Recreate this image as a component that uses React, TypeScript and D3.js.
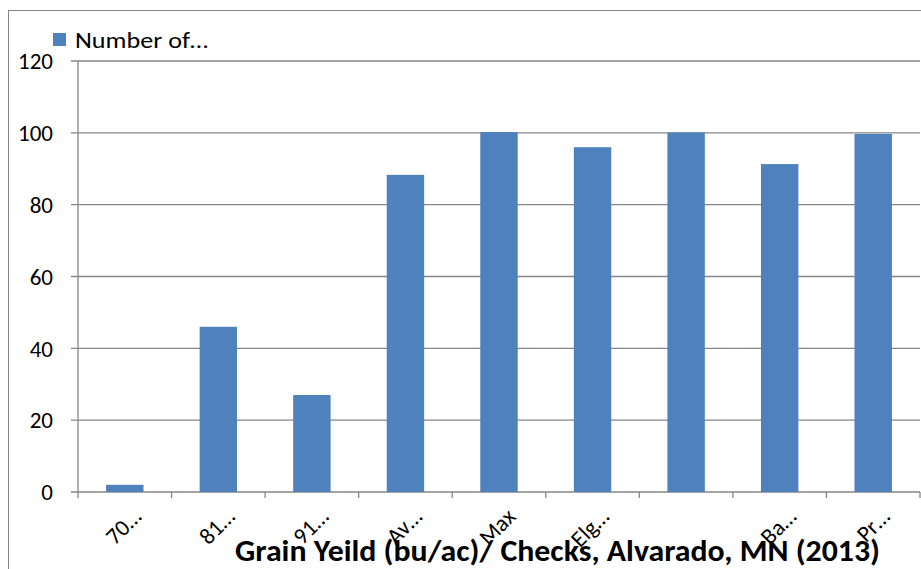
import React from "react";
import * as d3 from "d3";

const categories = ["70…", "81…", "91…", "Av…", "Max", "Elg…", "", "Ba…", "Pr…"];
const values = [2, 46, 27, 88.3, 100.2, 96, 100.1, 91.3, 99.7];
const yTicks = [0, 20, 40, 60, 80, 100, 120];
const seriesName = "Number of…";
const title = "Grain Yeild (bu/ac)/ Checks, Alvarado, MN (2013)";

const W = 921;
const H = 569;
const FONT = "Carlito, Calibri, Lato, 'Open Sans', sans-serif";
const BAR = "#4F81BD";
const GRID = "#868686";

export default function App() {
  const left = 78;
  const right = 920;
  const top = 61;
  const bottom = 492;

  const x = d3
    .scaleBand<number>()
    .domain(d3.range(categories.length))
    .range([left, right])
    .paddingInner(0.6)
    .paddingOuter(0.3);
  const band = (right - left) / categories.length;
  const y = d3.scaleLinear().domain([0, 120]).range([bottom, top]);

  return (
    <svg
      width={W}
      height={H}
      style={{ position: "absolute", left: 0, top: 0, background: "#fff" }}
      fontFamily={FONT}
    >
      <rect x={8.5} y={10.5} width={W} height={H} fill="#fff" stroke={GRID} strokeWidth={1} />

      {/* gridlines and y tick labels */}
      {yTicks.map((t) => (
        <g key={t}>
          <line x1={71} x2={right} y1={y(t)} y2={y(t)} stroke={GRID} strokeWidth={1.3} />
          <text x={53} y={y(t)} dy="0.36em" textAnchor="end" fontSize={23} fill="#000">
            {t}
          </text>
        </g>
      ))}

      {/* y axis */}
      <line x1={left} x2={left} y1={top} y2={bottom} stroke={GRID} strokeWidth={1.3} />

      {/* bars */}
      {values.map((v, i) => (
        <rect
          key={i}
          x={x(i)}
          y={y(v)}
          width={x.bandwidth()}
          height={y(0) - y(v)}
          fill={BAR}
        />
      ))}

      {/* category tick marks */}
      {d3.range(categories.length + 1).map((i) => (
        <line
          key={i}
          x1={left + i * band}
          x2={left + i * band}
          y1={bottom}
          y2={bottom + 6}
          stroke={GRID}
          strokeWidth={1.3}
        />
      ))}

      {/* rotated category labels */}
      {categories.map((c, i) => {
        const cx = (x(i) ?? 0) + x.bandwidth() / 2;
        return (
          <text
            key={i}
            transform={`translate(${cx + 18},${518}) rotate(-45)`}
            textAnchor="end"
            fontSize={23}
            fill="#000"
          >
            {c}
          </text>
        );
      })}

      {/* axis title */}
      <text
        x={235}
        y={561}
        fontSize={30}
        fontWeight="bold"
        fill="#000"
        textLength={645}
        lengthAdjust="spacingAndGlyphs"
      >
        {title}
      </text>

      {/* legend */}
      <rect x={53} y={33} width={13} height={13} fill={BAR} />
      <text
        x={75}
        y={40}
        dy="0.36em"
        fontSize={22}
        fill="#000"
        textLength={133}
        lengthAdjust="spacingAndGlyphs"
      >
        {seriesName}
      </text>
    </svg>
  );
}
